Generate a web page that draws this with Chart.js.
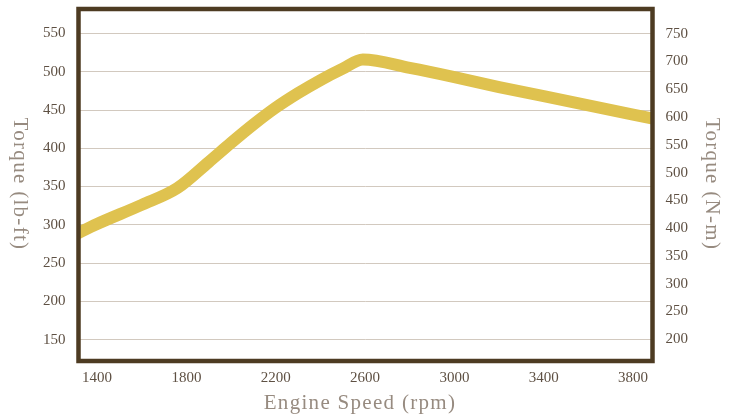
<!DOCTYPE html>
<html>
<head>
<meta charset="utf-8">
<script src="https://cdn.jsdelivr.net/npm/chart.js@4"></script>
<style>
  html, body { margin: 0; padding: 0; background: #ffffff; }
  #wrap { width: 736px; height: 415px; position: relative; }
</style>
</head>
<body>
<div id="wrap"><canvas id="c"></canvas></div>
<script>
// ---- data ----
const rpm    = [1300, 1400, 1600, 1760, 1900, 2000, 2100, 2200, 2300, 2400, 2500, 2590, 2800, 3000, 3200, 3400, 3600, 3800, 3900];
const torque = [287,  301,  326,  348,  382,  407,  431,  453,  472,  489,  504,  516,  505,  493,  480,  468,  456,  444,  438];
const xTicks = [1400, 1800, 2200, 2600, 3000, 3400, 3800];
const lbftTicks = [150, 200, 250, 300, 350, 400, 450, 500, 550];
const nmTicks = [200, 250, 300, 350, 400, 450, 500, 550, 600, 650, 700, 750];
const xTitle = 'Engine Speed (rpm)';
const leftTitle = 'Torque (lb-ft)';
const rightTitle = 'Torque (N-m)';

const FONT = '"Liberation Serif", "DejaVu Serif", serif';
const tickColor = '#5e5043';
const titleColor = '#978b80';

const titlesAndFrame = {
  id: 'titlesAndFrame',
  afterDraw(chart) {
    const ctx = chart.ctx;
    const a = chart.chartArea;
    ctx.save();
    ctx.strokeStyle = '#4d3b22';
    ctx.lineWidth = 4.5;
    ctx.strokeRect(a.left, a.top, a.right - a.left, a.bottom - a.top);
    ctx.fillStyle = titleColor;
    ctx.font = '21px ' + FONT;
    try { ctx.letterSpacing = '1.3px'; } catch (e) {}
    ctx.textAlign = 'center';
    ctx.textBaseline = 'middle';
    ctx.fillText(xTitle, 360, 403);
    const cy = 184;
    ctx.save();
    ctx.translate(20, cy);
    ctx.rotate(Math.PI / 2);
    ctx.fillText(leftTitle, 0, 0);
    ctx.restore();
    ctx.save();
    ctx.translate(712, cy);
    ctx.rotate(Math.PI / 2);
    ctx.fillText(rightTitle, 0, 0);
    ctx.restore();
    ctx.restore();
  }
};

const plain = v => String(v);

new Chart(document.getElementById('c'), {
  type: 'line',
  data: {
    datasets: [{
      data: rpm.map((r, i) => ({ x: r, y: torque[i] })),
      borderColor: '#dfc24f',
      borderWidth: 12,
      pointRadius: 0,
      cubicInterpolationMode: 'monotone',
      clip: 0,
      yAxisID: 'y'
    }]
  },
  options: {
    responsive: true,
    maintainAspectRatio: false,
    animation: false,
    layout: { padding: { top: 9, left: 0, right: 0, bottom: 0 } },
    plugins: { legend: { display: false }, tooltip: { enabled: false } },
    scales: {
      x: {
        type: 'linear',
        min: 1317, max: 3887,
        afterBuildTicks: s => { s.ticks = xTicks.map(v => ({ value: v })); },
        afterFit: s => { s.height = 54; s.paddingLeft = 0; s.paddingRight = 0; },
        grid: { display: false, drawTicks: false },
        border: { display: false },
        ticks: { color: tickColor, font: { family: FONT, size: 15 }, padding: 8, maxRotation: 0, callback: plain }
      },
      y: {
        position: 'left',
        min: 122, max: 582,
        afterBuildTicks: s => { s.ticks = lbftTicks.map(v => ({ value: v })); },
        afterFit: s => { s.width = 78.5; s.paddingTop = 0; s.paddingBottom = 0; },
        grid: { color: '#d2c9bf', lineWidth: 1, drawTicks: false },
        border: { display: false },
        ticks: { color: tickColor, font: { family: FONT, size: 15 }, padding: 13, callback: plain }
      },
      y2: {
        position: 'right',
        min: 161, max: 794.4,
        afterBuildTicks: s => { s.ticks = nmTicks.map(v => ({ value: v })); },
        afterFit: s => { s.width = 83.5; s.paddingTop = 0; s.paddingBottom = 0; },
        grid: { display: false, drawTicks: false },
        border: { display: false },
        ticks: { color: tickColor, font: { family: FONT, size: 15 }, padding: 13, callback: plain }
      }
    }
  },
  plugins: [titlesAndFrame]
});
</script>
</body>
</html>
